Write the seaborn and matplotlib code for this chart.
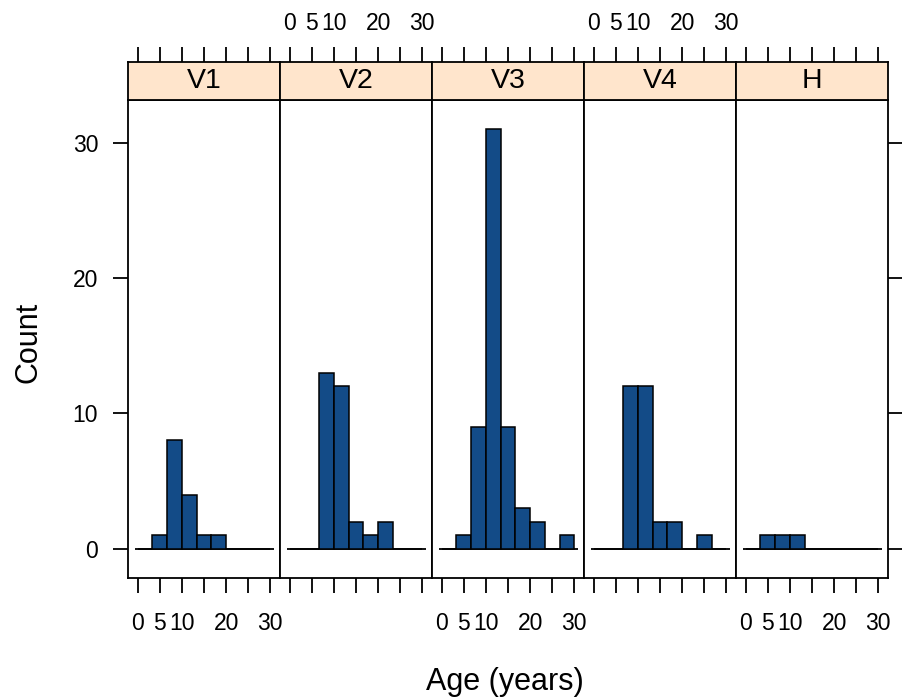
import matplotlib
matplotlib.use("Agg")
import matplotlib.pyplot as plt
import seaborn as sns
import pandas as pd

# ---- data ----
panels = ["V1", "V2", "V3", "V4", "H"]
bin_edges = [0, 3.333, 6.667, 10, 13.333, 16.667, 20, 23.333, 26.667, 30]
counts_V1 = [0, 1, 8, 4, 1, 1, 0, 0, 0]
counts_V2 = [0, 0, 13, 12, 2, 1, 2, 0, 0]
counts_V3 = [0, 1, 9, 31, 9, 3, 2, 0, 1]
counts_V4 = [0, 0, 12, 12, 2, 2, 0, 1, 0]
counts_H = [0, 1, 1, 1, 0, 0, 0, 0, 0]
x_ticks = [0, 5, 10, 15, 20, 25, 30]
x_tick_labels = ["0", "5", "10", "", "20", "", "30"]
y_ticks = [0, 10, 20, 30]
x_title = "Age (years)"
y_title = "Count"

all_counts = [counts_V1, counts_V2, counts_V3, counts_V4, counts_H]
centers = [(bin_edges[i] + bin_edges[i + 1]) / 2 for i in range(len(bin_edges) - 1)]
rows = []
for p, cs in zip(panels, all_counts):
    for c, n in zip(centers, cs):
        rows.append({"panel": p, "age": c, "count": n})
df = pd.DataFrame(rows)

sns.set_theme(style="white")
plt.rcParams["font.family"] = ["Liberation Sans", "DejaVu Sans"]
plt.rcParams["text.color"] = "black"
plt.rcParams["xtick.color"] = "black"
plt.rcParams["ytick.color"] = "black"

W, H = 902, 698
fig = plt.figure(figsize=(W / 100, H / 100), dpi=100)

pl, pr, pt, pb, st = 128, 888, 100, 578, 62
pw = (pr - pl) / 5
xlim = (-2.2, 32.2)
ylim = (-2.17, 33.17)
bar_color = "#134B87"
strip_color = "#FFE5CC"
tick_fs = 16.5
tick_len = 10.5
lw = 1.3

def fx(px):
    return px / W

def fy(py):
    return 1 - py / H

for i, p in enumerate(panels):
    x0 = pl + i * pw
    ax = fig.add_axes([fx(x0), fy(pb), pw / W, (pb - pt) / H])
    sub = df[df["panel"] == p]
    sns.histplot(data=sub, x="age", weights="count", bins=bin_edges, ax=ax,
                 color=bar_color, edgecolor="black", linewidth=1.1, alpha=1.0,
                 zorder=3)
    ax.hlines(0, -0.6, 30.8, color="black", linewidth=1.3, zorder=2)
    ax.set_xlim(*xlim)
    ax.set_ylim(*ylim)
    ax.set_xlabel("")
    ax.set_ylabel("")
    ax.set_xticks(x_ticks)
    ax.set_xticklabels(x_tick_labels)
    ax.set_yticks(y_ticks)
    ax.set_yticklabels([str(v) for v in y_ticks])
    for s in ax.spines.values():
        s.set_linewidth(lw)
        s.set_color("black")
    ax.tick_params(axis="x", which="both", direction="out", length=tick_len,
                   width=lw, bottom=True, top=False,
                   labelbottom=(i in (0, 2, 4)), labelsize=tick_fs, pad=14)
    ax.tick_params(axis="y", direction="out", length=tick_len, width=lw,
                   left=(i == 0), right=(i == 4), labelleft=(i == 0),
                   labelright=False, labelsize=tick_fs, pad=11)
    ax.grid(False)

    # strip
    sax = fig.add_axes([fx(x0), fy(pt), pw / W, (pt - st) / H])
    sax.set_facecolor(strip_color)
    sax.set_xlim(*xlim)
    sax.set_ylim(0, 1)
    sax.set_yticks([])
    sax.set_xticks(x_ticks)
    sax.set_xticklabels(x_tick_labels)
    sax.tick_params(axis="x", direction="out", length=tick_len, width=lw,
                    bottom=False, top=True, labelbottom=False,
                    labeltop=(i in (1, 3)), labelsize=tick_fs, pad=9)
    for s in sax.spines.values():
        s.set_linewidth(lw)
        s.set_color("black")
    sax.text(15, 0.5, p, ha="center", va="center", fontsize=20.5,
             transform=sax.transData)

fig.text(fx(505), fy(690), x_title, ha="center", va="baseline", fontsize=22)
fig.text(fx(28), fy(342), y_title, ha="center", va="center", rotation=90,
         fontsize=22)

fig.savefig("out.png", dpi=100, facecolor="white")
